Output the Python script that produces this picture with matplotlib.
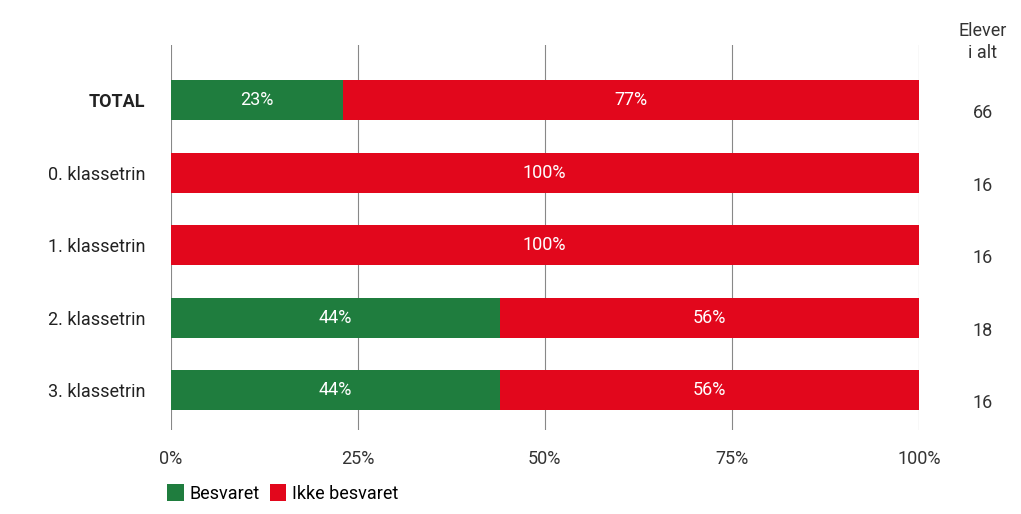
import numpy as np
import matplotlib.pyplot as plt

plt.rcParams['font.family'] = ['Roboto', 'DejaVu Sans']

categories = ['TOTAL', '0. klassetrin', '1. klassetrin', '2. klassetrin', '3. klassetrin']
besvaret = np.array([23, 0, 0, 44, 44])
ikke_besvaret = np.array([77, 100, 100, 56, 56])
elever = [66, 16, 16, 18, 16]

green = '#1f7d3e'
red = '#e2071c'

fig = plt.figure(figsize=(10.21, 5.14), dpi=100)
ax = fig.add_axes([0.167, 0.163, 0.733, 0.749])

y = np.arange(len(categories))
ax.barh(y, besvaret, height=0.55, color=green, label='Besvaret', zorder=2)
ax.barh(y, ikke_besvaret, left=besvaret, height=0.55, color=red, label='Ikke besvaret', zorder=2)

# labels inside bars
for i in range(len(categories)):
    if besvaret[i] > 0:
        ax.text(besvaret[i] / 2, y[i], f'{besvaret[i]}%', ha='center', va='center',
                color='white', fontsize=13, zorder=3)
    ax.text(besvaret[i] + ikke_besvaret[i] / 2, y[i], f'{ikke_besvaret[i]}%', ha='center',
            va='center', color='white', fontsize=13, zorder=3)

ax.set_xlim(0, 100)
ax.set_ylim(4.55, -0.76)
ax.set_xticks([0, 25, 50, 75, 100])
ax.set_xticklabels(['0%', '25%', '50%', '75%', '100%'], fontsize=13, color='#333333')
ax.set_yticks(y)
ax.set_yticklabels(categories, fontsize=13, color='#222222')
ax.get_yticklabels()[0].set_fontweight('bold')
ax.tick_params(axis='both', length=0)
ax.tick_params(axis='x', pad=14)
ax.tick_params(axis='y', pad=18)
ax.grid(axis='x', color='#888888', linewidth=0.8, zorder=0)
for s in ax.spines.values():
    s.set_visible(False)

# right column
ax.text(1.085, 1.06, 'Elever\ni alt', transform=ax.transAxes, ha='center', va='top',
        fontsize=13, color='#333333', linespacing=1.3)
for i, n in enumerate(elever):
    ax.text(1.085, y[i] + 0.18, str(n), transform=ax.get_yaxis_transform(),
            ha='center', va='center', fontsize=13, color='#333333', clip_on=False)

fig.legend(loc='lower left', bbox_to_anchor=(0.148, -0.01), ncol=2, frameon=False,
           fontsize=13, handlelength=0.9, handleheight=1.1, handletextpad=0.3,
           columnspacing=0.6)

fig.savefig('out.png', dpi=100)
